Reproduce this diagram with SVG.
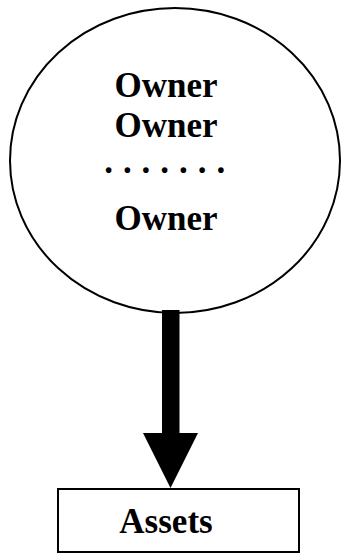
<svg xmlns="http://www.w3.org/2000/svg" width="341" height="554" viewBox="0 0 341 554">
<style>
.t{font-family:"Liberation Serif","Times New Roman",serif;font-weight:bold;font-size:35px;fill:#000;text-anchor:middle}
.s{fill:none;stroke:#000;stroke-width:2}
</style>
<rect width="341" height="554" fill="#fff"/>
<g id="connectors">
<rect x="162" y="310" width="17.5" height="124" fill="#000"/>
<polygon points="143,433 198,433 170.5,488" fill="#000"/>
</g>
<g id="owners">
<ellipse class="s" cx="175" cy="160.5" rx="165" ry="152.5"/>
<text class="t" x="166" y="97">Owner</text>
<text class="t" x="166" y="137">Owner</text>
<text class="t" x="165" y="173" letter-spacing="0.6">. . . . . . .</text>
<text class="t" x="166" y="230">Owner</text>
</g>
<g id="assets">
<rect class="s" x="58" y="489" width="241" height="63"/>
<text class="t" x="166" y="533">Assets</text>
</g>
</svg>
